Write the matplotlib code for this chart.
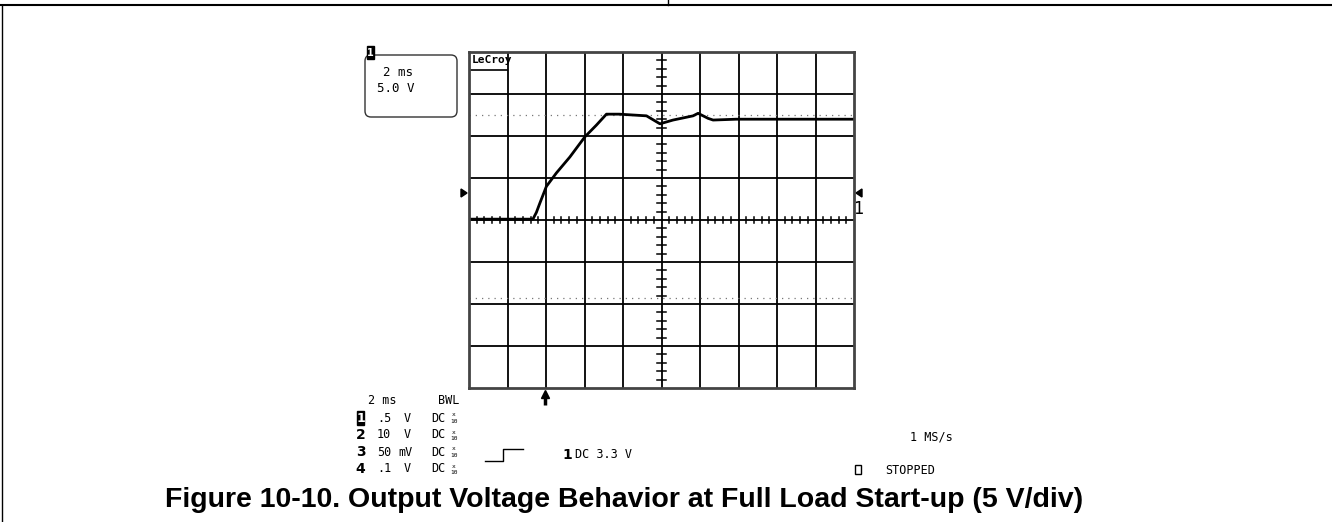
import matplotlib
matplotlib.use("Agg")
import matplotlib.pyplot as plt
from matplotlib.patches import FancyBboxPatch, Rectangle, Polygon

# scope settings (2 ms/div, 5 V/div, 10 x 8 divisions)
ms_per_div = 2.0
volt_per_div = 5.0

# output voltage trace
t_ms = [-10.0, -6.68, -6.5, -6.32, -5.98, -5.46, -4.76, -3.98, -3.38, -2.86, -2.2,
        -0.78, -0.08, 0.6, 1.64, 1.9, 2.42, 2.68, 3.88, 10.0]
v_out = [0.1, 0.1, 0.9, 2.0, 4.0, 5.6, 7.5, 9.9, 11.3, 12.6, 12.6,
         12.4, 11.45, 11.9, 12.4, 12.7, 12.1, 11.9, 12.0, 12.0]

cursor_v = [12.5, -9.3]
trigger_ms = -6.06

channel_ids = ["1", "2", "3", "4"]
channel_scale = [".5", "10", "50", ".1"]
channel_unit = ["V", "V", "mV", "V"]

caption = "Figure 10-10. Output Voltage Behavior at Full Load Start-up (5 V/div)"

W, H = 1332, 522
fig = plt.figure(figsize=(W / 100, H / 100), dpi=100)

# overlay in pixel coordinates for page furniture and labels
ov = fig.add_axes([0, 0, 1, 1])
ov.set_xlim(0, W)
ov.set_ylim(H, 0)
ov.axis("off")

ov.plot([0, W], [5, 5], color="black", lw=1.5)
ov.plot([668, 668], [0, 5], color="black", lw=1)
ov.plot([2, 2], [5, H], color="black", lw=1)

mono = "DejaVu Sans Mono"

# settings box top left
ov.add_patch(FancyBboxPatch((365, 55), 92, 62, boxstyle="round,pad=0,rounding_size=6",
                            fill=False, ec="#333333", lw=1))
ov.add_patch(Rectangle((367, 46), 7, 13, color="black"))
ov.text(370.5, 52.5, "1", color="white", fontsize=7, fontweight="bold",
        ha="center", va="center", family="DejaVu Sans")
ov.text(383, 73, "2 ms", fontsize=9, family=mono, va="center")
ov.text(377, 88, "5.0 V", fontsize=9, family=mono, va="center")

# scope screen
x0, x1, y0, y1 = 469, 854, 52, 388
ax = fig.add_axes([x0 / W, 1 - y1 / H, (x1 - x0) / W, (y1 - y0) / H])
ax.set_xlim(-5 * ms_per_div, 5 * ms_per_div)
ax.set_ylim(-4 * volt_per_div, 4 * volt_per_div)
ax.set_facecolor("none")
ax.set_xticks([])
ax.set_yticks([])
for s in ax.spines.values():
    s.set_color("#444444")
    s.set_linewidth(2)

for i in range(-4, 5):
    ax.axvline(i * ms_per_div, color="black", lw=1.3)
for j in range(-3, 4):
    ax.axhline(j * volt_per_div, color="black", lw=1.3)

# minor ticks on centre axes
for k in range(-25, 26):
    if k % 5:
        t = k * ms_per_div / 5
        ax.plot([t, t], [-0.3, 0.4], color="black", lw=1.1)
for k in range(-20, 21):
    if k % 5:
        v = k * volt_per_div / 5
        ax.plot([-0.25, 0.25], [v, v], color="black", lw=1.1)

for cv in cursor_v:
    ax.plot([-10, 10], [cv, cv], color="#777777", lw=0.9, linestyle=(0, (1, 4)))

ax.plot(t_ms, v_out, color="black", lw=2)

ax.text(0.006, 0.99, "LeCroy", transform=ax.transAxes, fontsize=8, fontweight="bold",
        family="DejaVu Sans Mono", va="top", ha="left")
ax.plot([0.006, 0.1], [0.945, 0.945], transform=ax.transAxes, color="black", lw=1.2)

# ground level markers
ov.add_patch(Polygon([[461, 189], [461, 197], [467, 193]], color="black"))
ov.add_patch(Polygon([[862, 189], [862, 197], [856, 193]], color="black"))
ov.text(853, 209, "1", fontsize=12, family="DejaVu Sans Mono", va="center")

# trigger position arrow below the screen
ax.plot([trigger_ms, trigger_ms], [-20.8, -22.0], color="black", lw=2.5, clip_on=False,
        solid_capstyle="butt")
ax.plot([trigger_ms], [-20.75], marker="^", ms=6, color="black", clip_on=False)

# channel setup table
ov.text(368, 401, "2 ms", fontsize=8.5, family=mono, va="center")
ov.text(438, 401, "BWL", fontsize=8.5, family=mono, va="center")
for i, (cid, sc, un) in enumerate(zip(channel_ids, channel_scale, channel_unit)):
    y = 418 + 17 * i
    if cid == "1":
        ov.add_patch(Rectangle((357, y - 7), 7, 14, color="black"))
        ov.text(360.5, y, cid, color="white", fontsize=9, fontweight="bold",
                ha="center", va="center", family="DejaVu Sans")
    else:
        ov.text(360.5, y, cid, fontsize=10, fontweight="bold", ha="center",
                va="center", family="DejaVu Sans")
    ov.text(377, y, sc, fontsize=8.5, family=mono, va="center")
    ov.text(398 if un == "mV" else 404, y, un, fontsize=8.5, family=mono, va="center")
    ov.text(431, y, "DC", fontsize=8.5, family=mono, va="center")
    ov.text(454, y - 3, "x", fontsize=4.5, family=mono, va="center", ha="center")
    ov.text(454, y + 3.5, "10", fontsize=4.5, family=mono, va="center", ha="center")

# trigger setup
ov.plot([485, 503, 503, 523], [461, 461, 449, 449], color="black", lw=1)
ov.text(562, 455, "1", fontsize=10, fontweight="bold", family="DejaVu Sans", va="center")
ov.text(575, 455, "DC 3.3 V", fontsize=8.5, family=mono, va="center")

ov.text(910, 437, "1 MS/s", fontsize=8.5, family=mono, va="center")
ov.add_patch(Rectangle((855, 465), 6, 9, fill=False, ec="black", lw=1))
ov.text(885, 470, "STOPPED", fontsize=8.5, family=mono, va="center")

ov.text(624, 507, caption, fontsize=20.5, fontweight="bold", family="Liberation Sans",
        ha="center", va="baseline")

fig.savefig("out.png", dpi=100)
